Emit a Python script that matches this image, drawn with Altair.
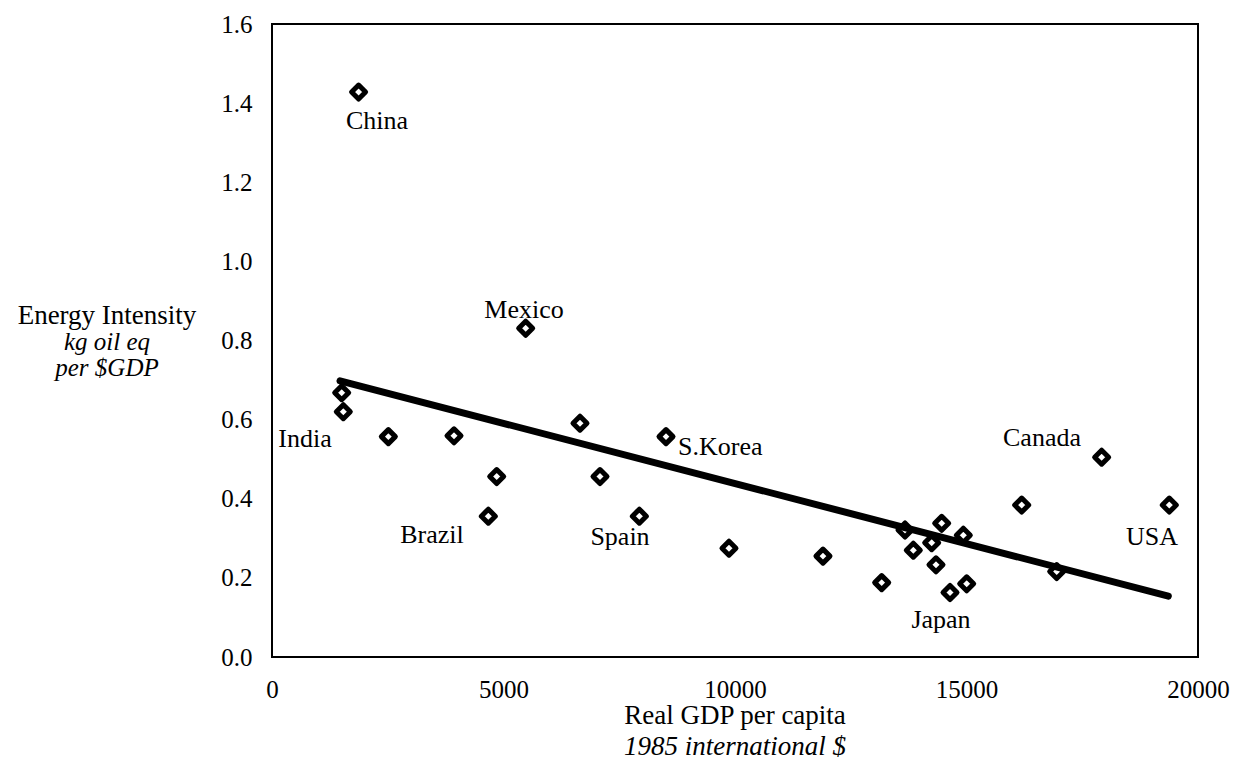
import altair as alt
import pandas as pd

# Scatter data (real GDP per capita, energy intensity)
gdp = [1505, 1540, 1870, 2513, 3931, 4672, 4853, 5479, 6652, 7084, 7934, 8510,
       9870, 11900, 13168, 13672, 13851, 14248, 14341, 14464, 14644, 14931,
       15004, 16192, 16948, 17919, 19380]
intensity = [0.668, 0.620, 1.428, 0.557, 0.559, 0.356, 0.456, 0.831, 0.591,
             0.456, 0.356, 0.557, 0.275, 0.255, 0.188, 0.321, 0.270, 0.289,
             0.233, 0.338, 0.163, 0.308, 0.185, 0.384, 0.216, 0.505, 0.384]

# Regression line end points
fit_x = [1469, 19359]
fit_y = [0.698, 0.154]

# Country labels
lab_text = ["China", "Mexico", "India", "Brazil", "Spain", "Canada", "USA", "Japan"]
lab_x = [2268, 5443, 713, 3456, 7516, 16631, 19006, 14449]
lab_y = [1.355, 0.877, 0.551, 0.308, 0.303, 0.554, 0.303, 0.0935]
korea_text = ["S.Korea"]
korea_x = [8769]
korea_y = [0.531]

x_ticks = [0, 5000, 10000, 15000, 20000]
y_ticks = [0.0, 0.2, 0.4, 0.6, 0.8, 1.0, 1.2, 1.4, 1.6]

FONT = "Liberation Serif"
FS_TICK = 25
FS_LAB = 26
FS_TITLE = 27
FS_YTITLE = 25
W, H = 926, 633

pts = pd.DataFrame({"gdp": gdp, "ei": intensity})
fit = pd.DataFrame({"gdp": fit_x, "ei": fit_y})
labs = pd.DataFrame({"gdp": lab_x, "ei": lab_y, "t": lab_text})
kor = pd.DataFrame({"gdp": korea_x, "ei": korea_y, "t": korea_text})

xs = alt.Scale(domain=[0, 20000], nice=False, zero=False)
ys = alt.Scale(domain=[0, 1.6], nice=False, zero=False)

xax = alt.Axis(values=x_ticks, format="d", title=None, ticks=False, grid=False,
               domain=False, labelFont=FONT, labelFontSize=FS_TICK, labelColor="black",
               labelPadding=20, labelFlush=False, labelOverlap=False)
yax = alt.Axis(values=y_ticks, format=".1f", title=None, ticks=False, grid=False,
               domain=False, labelFont=FONT, labelFontSize=FS_TICK, labelColor="black",
               labelPadding=20, labelOverlap=False)

X = alt.X("gdp:Q", scale=xs, axis=xax)
Y = alt.Y("ei:Q", scale=ys, axis=yax)

line = alt.Chart(fit).mark_line(color="black", strokeWidth=7, strokeCap="round").encode(
    x=X, y=Y)

points = alt.Chart(pts).mark_point(shape="diamond", filled=False, color="black",
                                   stroke="black", strokeWidth=5, size=196,
                                   strokeJoin="round", opacity=1).encode(x=X, y=Y)

labels = alt.Chart(labs).mark_text(font=FONT, fontSize=FS_LAB, color="black",
                                   align="center", baseline="middle").encode(
    x=X, y=Y, text="t:N")
korea = alt.Chart(kor).mark_text(font=FONT, fontSize=FS_LAB, color="black",
                                 align="left", baseline="middle").encode(
    x=X, y=Y, text="t:N")

one = alt.InlineData(values=[{"k": 0}])

def note(txt, px, py, size, italic=False):
    return alt.Chart(one).mark_text(
        text=txt, font=FONT, fontSize=size, color="black", align="center",
        baseline="middle", fontStyle="italic" if italic else "normal"
    ).encode(x=alt.value(px), y=alt.value(py))

titles = [
    note("Energy Intensity", -165, 316 - 24, FS_TITLE),
    note("kg oil eq", -165, 342 - 24, FS_YTITLE, True),
    note("per $GDP", -165, 368 - 24, FS_YTITLE, True),
    note("Real GDP per capita", W / 2, 716 - 24, FS_TITLE),
    note("1985 international $", W / 2, 747 - 24, FS_TITLE, True),
]

chart = alt.layer(line, points, labels, korea, *titles).properties(
    width=W, height=H,
    autosize=alt.AutoSizeParams(type="none"),
    padding={"left": 272, "top": 24, "right": 49, "bottom": 113},
).configure(background="white").configure_view(stroke="black", strokeWidth=2)

chart.save("out.html", embed_options={"renderer": "svg", "actions": False})
